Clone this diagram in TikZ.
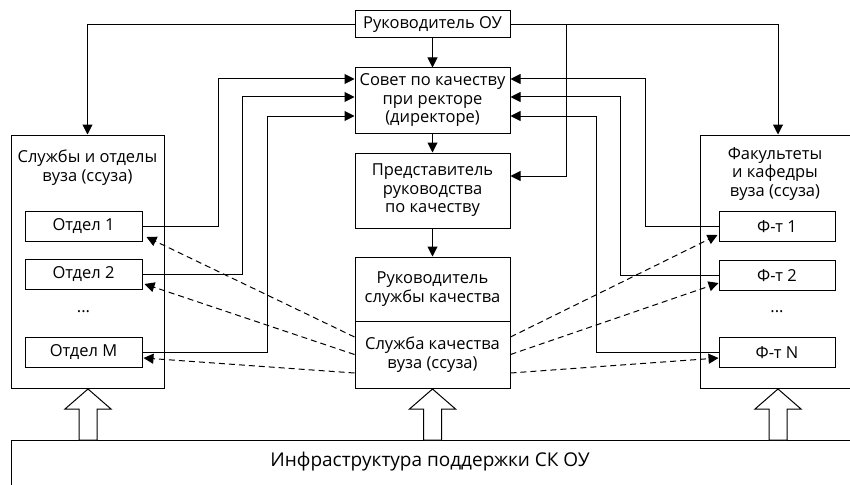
\documentclass[tikz,border=0pt]{standalone}
\usepackage{fontspec}
\setmainfont{Open Sans}
\usetikzlibrary{arrows.meta}
\begin{document}
\begin{tikzpicture}[x=1pt,y=-1pt,line width=1pt,
  font=\fontsize{16.5}{18.5}\selectfont,
  box/.style={draw,inner sep=0pt,align=center,minimum width=155pt},
  unit/.style={draw,inner sep=0pt,minimum width=117pt,minimum height=30pt},
  arr/.style={-{Triangle[length=10pt,width=10pt]}},
  dsh/.style={arr,dash pattern=on 6pt off 4pt}]
\useasboundingbox (0,0) rectangle (850,484);

\node[box,minimum height=27pt] (head) at (432.5,24.5) {Руководитель ОУ};
\node[box,minimum height=65pt] (council) at (432.5,100.5) {Совет по качеству\\при ректоре\\(директоре)};
\node[box,minimum height=75pt] (rep) at (432.5,190.5) {Представитель\\руководства\\по качеству};
\node[box,minimum height=64pt] (qhead) at (432.5,289) {Руководитель\\службы качества};
\node[box,minimum height=67pt] (qserv) at (432.5,354.5) {Служба качества\\вуза (ссуза)};

\node[draw,minimum width=153pt,minimum height=253pt] (depts) at (87.5,261.5) {};
\node[align=center] at (87.5,167.5) {Службы и отделы\\вуза (ссуза)};
\node[unit] (d1) at (83.5,226) {Отдел 1};
\node[unit] (d2) at (83.5,274.5) {Отдел 2};
\node at (83.5,312) {...};
\node[unit] (dm) at (83.5,352.5) {Отдел M};

\node[draw,minimum width=156pt,minimum height=253pt] (facs) at (778,261.5) {};
\node[align=center] at (775,174) {Факультеты\\и кафедры\\вуза (ссуза)};
\node[unit,minimum width=116pt] (f1) at (777,226.5) {Ф-т 1};
\node[unit,minimum width=116pt] (f2) at (777,275.5) {Ф-т 2};
\node at (777,312) {...};
\node[unit,minimum width=116pt] (fn) at (777,352.5) {Ф-т N};

\node[draw,inner sep=0pt,minimum width=859pt,minimum height=60pt,anchor=north west] (infra) at (11,440) {};
\node[font=\fontsize{19}{22}\selectfont] at (430,462) {Инфраструктура поддержки СК ОУ};

\draw[arr] (head.west) -| (depts.north);
\draw[arr] (head.east) -| (facs.north);
\draw[arr] ([xshift=56pt]head.east) |- ([yshift=14.5pt]rep.east);
\draw[arr] (head) -- (council);
\draw[arr] (council) -- (rep);
\draw[arr] (rep) -- (qhead);

\draw[arr] (d1.east) -- ++(76,0) |- ([yshift=21.5pt]council.west);
\draw[arr] (d2.east) -- ++(100,0) |- ([yshift=3.5pt]council.west);
\draw[arr] (dm.east) -- ++(125,0) |- ([yshift=-15.5pt]council.west);
\draw[arr] (f1.west) -- ++(-73,0) |- ([yshift=21.5pt]council.east);
\draw[arr] (f2.west) -- ++(-98,0) |- ([yshift=3.5pt]council.east);
\draw[arr] (fn.west) -- ++(-122,0) |- ([yshift=-15.5pt]council.east);

\draw[dsh] ([yshift=17.5pt]qserv.west) -- ([xshift=4pt,yshift=-11pt]d1.east);
\draw[dsh] (qserv.west) -- ([xshift=2pt,yshift=-9.5pt]d2.east);
\draw[dsh] ([yshift=-18.5pt]qserv.west) -- ([xshift=1pt,yshift=-5.5pt]dm.east);
\draw[dsh] ([yshift=17.5pt]qserv.east) -- ([xshift=-1pt,yshift=-8.5pt]f1.west);
\draw[dsh] (qserv.east) -- ([yshift=-7.5pt]f2.west);
\draw[dsh] ([yshift=-18.5pt]qserv.east) -- ([yshift=-5.5pt]fn.west);

\foreach \x in {88,432.5,778}
  \draw[fill=white] (\x-9,440) -- (\x-9,409) -- (\x-23,409) -- (\x,389)
    -- (\x+23,409) -- (\x+9,409) -- (\x+9,440) -- cycle;
\end{tikzpicture}
\end{document}
